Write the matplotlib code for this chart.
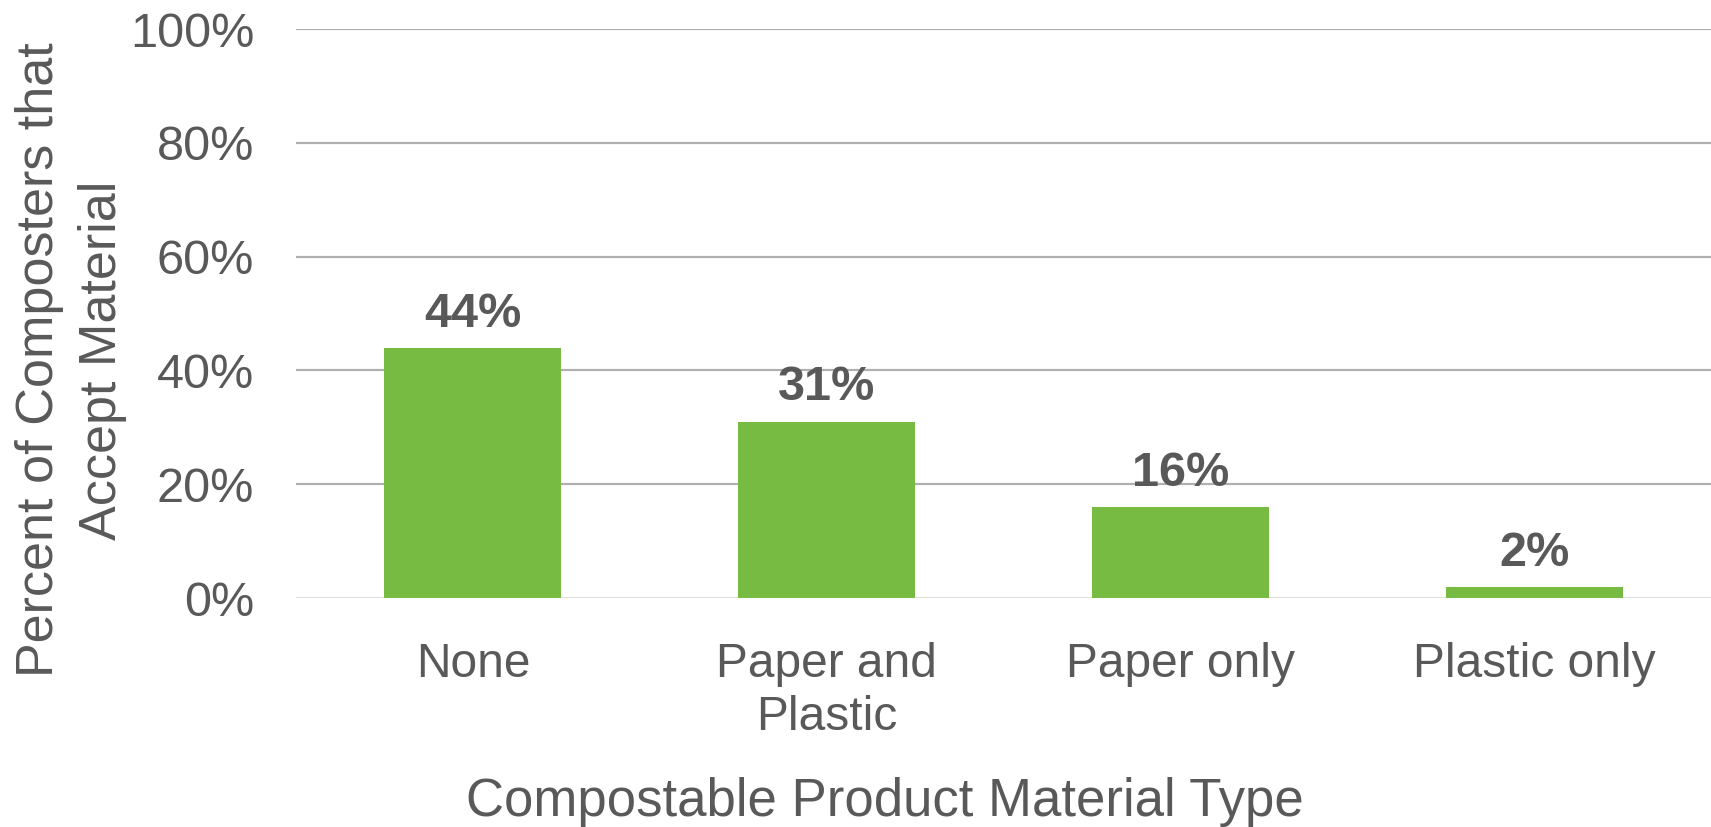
import matplotlib
matplotlib.use("Agg")
import matplotlib.pyplot as plt
from matplotlib.ticker import FixedLocator

categories = ["None", "Paper and\nPlastic", "Paper only", "Plastic only"]
values = [44, 31, 16, 2]
value_labels = ["44%", "31%", "16%", "2%"]
yticks = [0, 20, 40, 60, 80, 100]
ytick_labels = ["0%", "20%", "40%", "60%", "80%", "100%"]

plt.rcParams['font.family'] = ['Liberation Sans', 'DejaVu Sans']
TXT = "#595959"
BAR = "#78BB43"

fig = plt.figure(figsize=(17.11, 8.27), dpi=100)
ax = fig.add_axes([296/1711, 1 - 598/827, 1415/1711, (598 - 29)/827])

x = list(range(len(categories)))
bars = ax.bar(x, values, width=0.5, color=BAR, zorder=3)
ax.set_xlim(-0.5, len(categories) - 0.5)
ax.set_ylim(0, 100)

ax.yaxis.set_major_locator(FixedLocator(yticks))
ax.set_yticklabels(ytick_labels, fontsize=35, color=TXT)
ax.set_xticks(x)
ax.set_xticklabels(categories, fontsize=34.5, color=TXT, linespacing=1.22)
ax.tick_params(axis='both', length=0)
ax.tick_params(axis='y', pad=30)
ax.tick_params(axis='x', pad=32)

for y in yticks[1:]:
    ax.axhline(y, color="#b0b0b0", lw=1.6, zorder=1)
ax.axhline(0, color="#d9d9d9", lw=2, zorder=2)
for s in ax.spines.values():
    s.set_visible(False)

for rect, lab in zip(bars, value_labels):
    ax.annotate(lab, (rect.get_x() + rect.get_width()/2, rect.get_height()),
                xytext=(0, 8), textcoords="offset points",
                ha="center", va="bottom", fontsize=35, fontweight="bold", color=TXT)

fig.text(71/1711, 1 - 360/827, "Percent of Composters that\nAccept Material",
         rotation=90, ha="center", va="center", fontsize=37.5, color=TXT, linespacing=1.38)
fig.text(885/1711, 1 - 802/827, "Compostable Product Material Type",
         ha="center", va="center", fontsize=38, color=TXT)

fig.savefig("out.png", dpi=100)
